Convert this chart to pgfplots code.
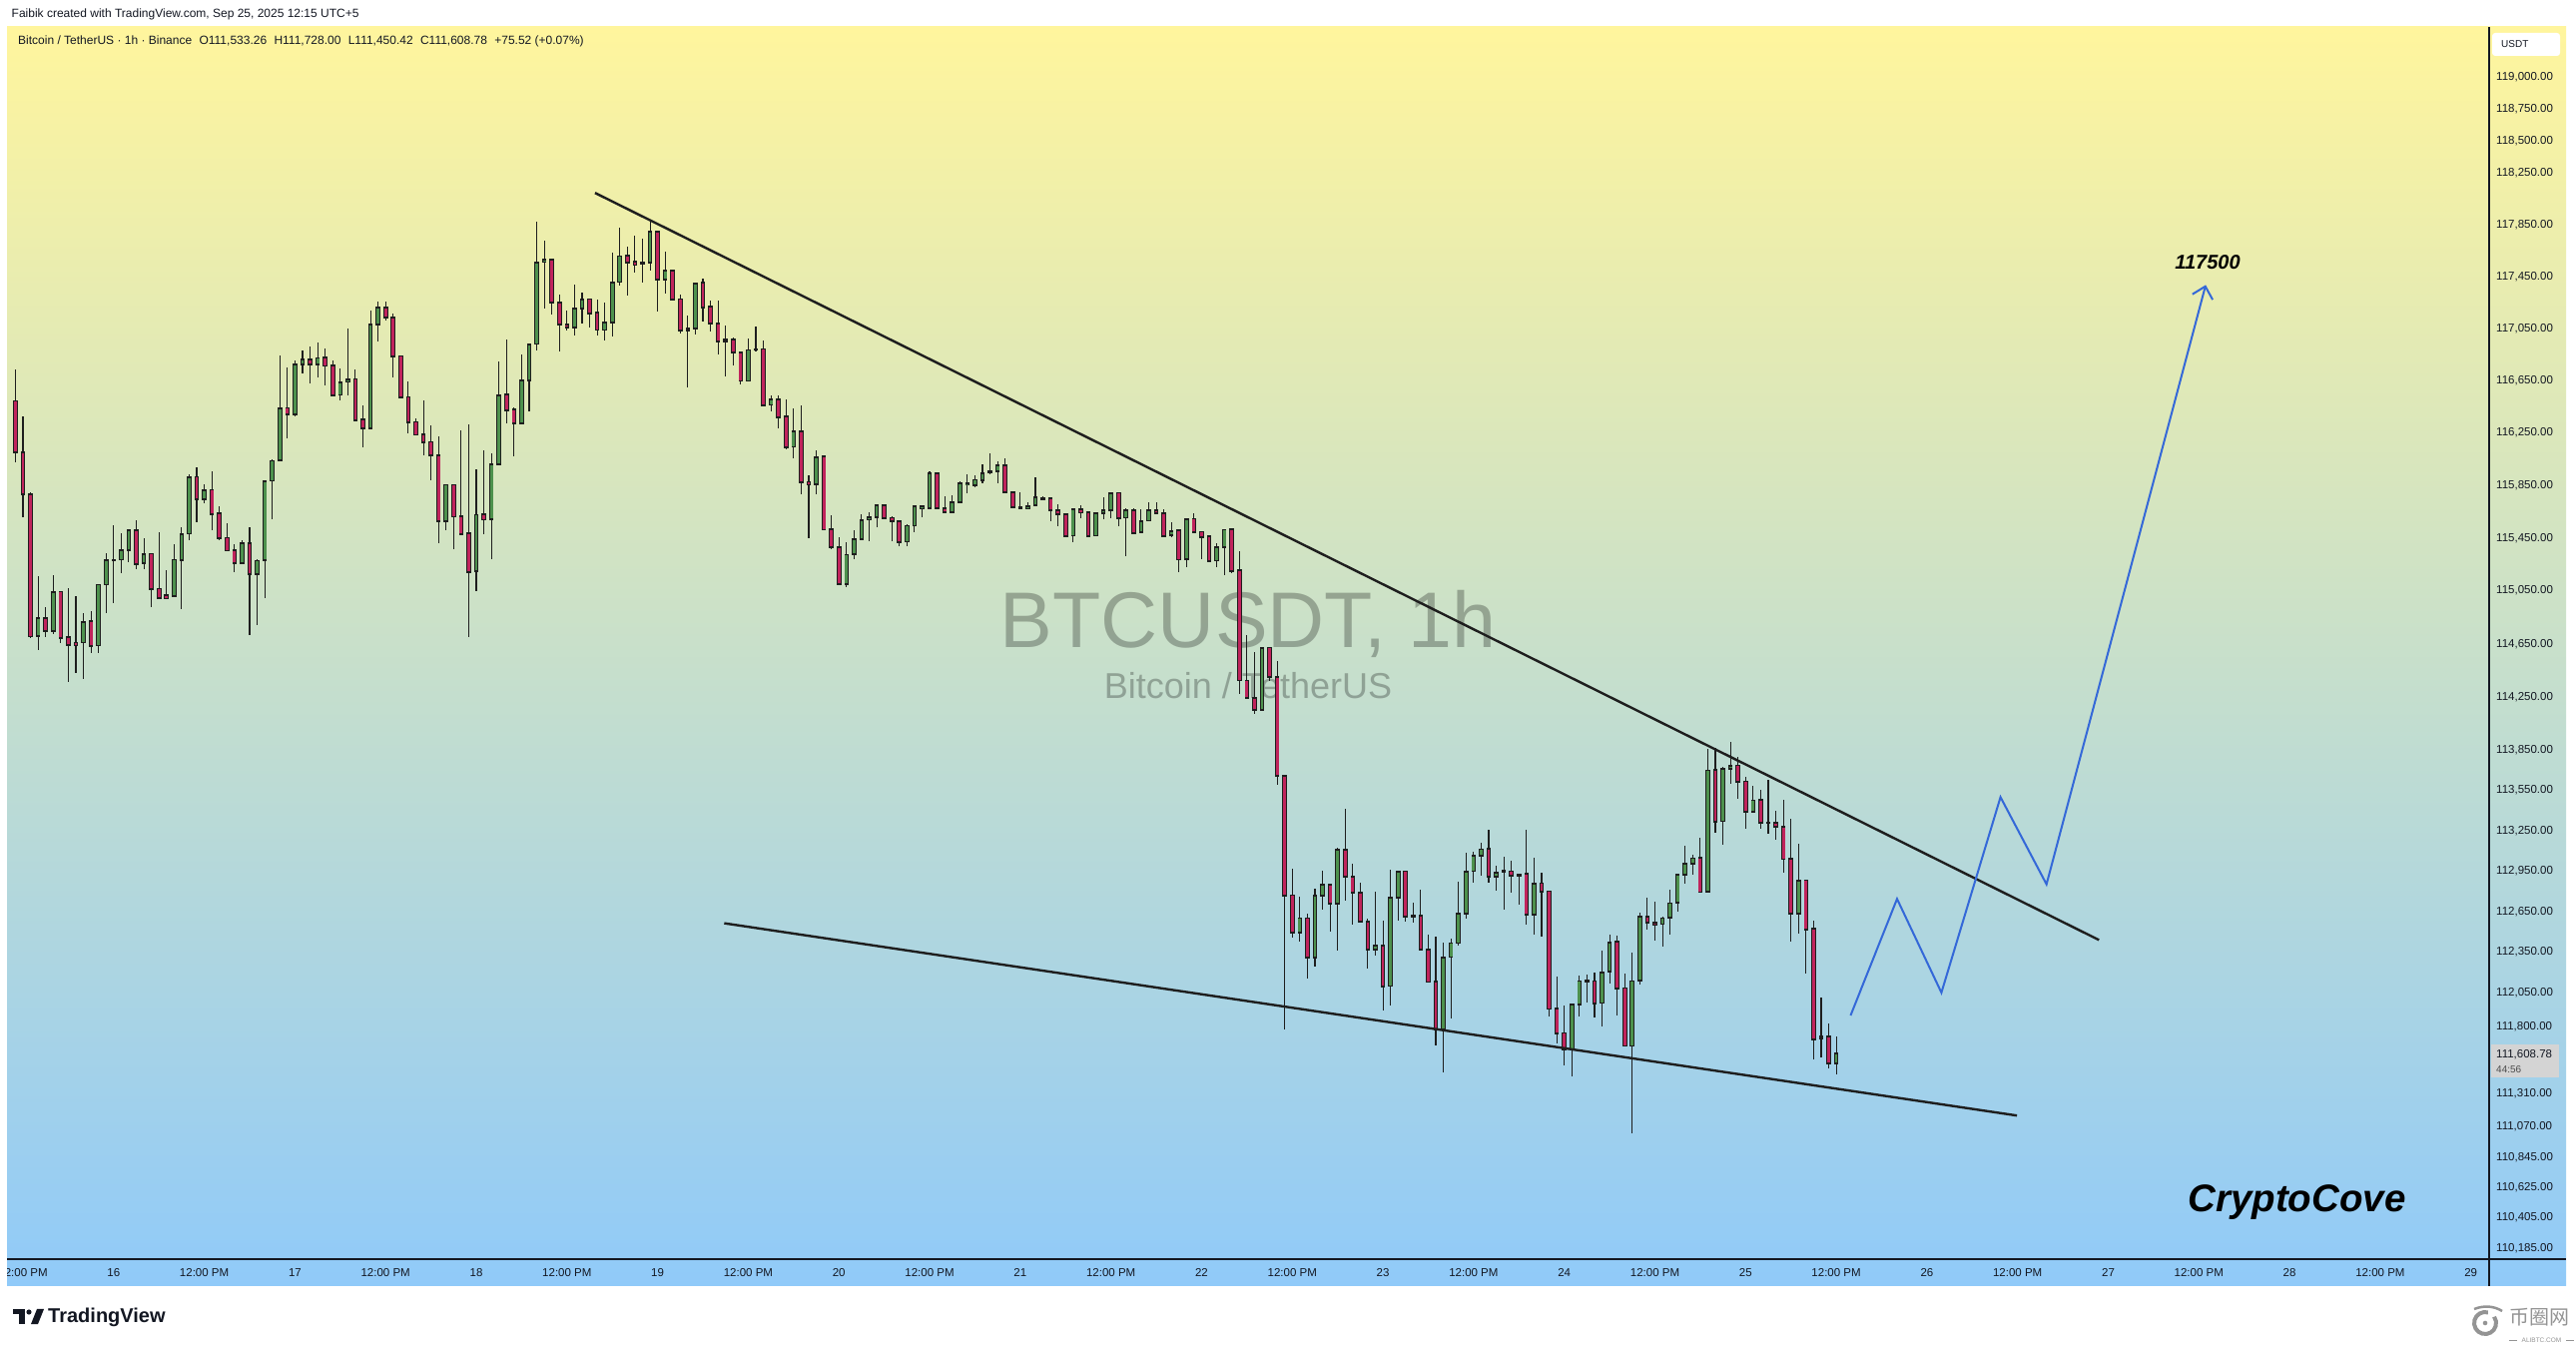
\documentclass[border=0pt]{standalone}
\usepackage{fontspec}
\setmainfont{Liberation Sans}
\newfontfamily\cjk{Noto Sans CJK SC}
\usepackage{pgfplots}
\usepackage{pgfplotstable}
\pgfplotsset{compat=1.18}
\usetikzlibrary{arrows.meta}
\definecolor{bgtop}{HTML}{FFF59D}
\definecolor{bgbot}{HTML}{90CAF9}
\definecolor{tvtext}{HTML}{131722}
\definecolor{upcol}{HTML}{4D914D}
\definecolor{dncol}{HTML}{C0245C}
\definecolor{wickcol}{HTML}{1E1E1E}
\definecolor{projblue}{HTML}{3468D8}

% hourly OHLC, t = hours after Sep 16 00:00 (UTC+5)
\pgfplotstableread{
t o h l c
-13 116494 116742 116029 116105
-12 116105 116385 115610 115787
-11 115787 115800 114699 114711
-10 114711 115169 114606 114849
-9 114849 114932 114703 114749
-8 114749 115176 114728 115045
-7 115045 115050 114661 114699
-6 114699 115076 114365 114643
-5 114661 115012 114436 114643
-4 114661 114887 114391 114819
-3 114819 114899 114586 114641
-2 114641 115106 114586 115101
-1 115101 115341 114887 115288
0 115282 115549 114962 115288
1 115288 115492 115189 115363
2 115363 115517 115269 115512
3 115509 115585 115214 115262
4 115262 115454 115219 115333
5 115333 115340 114932 115068
6 115068 115499 114995 115000
7 115017 115207 114995 115000
8 115017 115408 115010 115288
9 115288 115534 114917 115484
10 115484 115940 115436 115917
11 115917 115992 115575 115749
12 115749 115863 115714 115818
13 115818 115963 115512 115636
14 115636 115693 115434 115454
15 115454 115568 115355 115358
16 115358 115408 115199 115265
17 115265 115434 115260 115416
18 115416 115537 114719 115183
19 115183 115290 114794 115282
20 115282 115895 115000 115889
21 115889 116050 115598 116044
22 116044 116852 116040 116444
23 116444 116756 116215 116398
24 116398 116807 116380 116779
25 116779 116890 116706 116818
26 116818 116920 116633 116779
27 116779 116949 116681 116831
28 116831 116901 116616 116770
29 116770 116807 116540 116545
30 116545 116750 116502 116641
31 116644 117056 116540 116667
32 116667 116742 116350 116354
33 116354 116461 116146 116291
34 116291 117191 116285 117087
35 117087 117265 116954 117217
36 117217 117260 117115 117140
37 117140 117171 116674 116839
38 116839 116845 116522 116527
39 116527 116646 116253 116336
40 116336 116367 116235 116240
41 116240 116499 116082 116184
42 116184 116316 115891 116082
43 116082 116227 115416 115580
44 115580 115865 115512 115859
45 115859 115865 115370 115617
46 115617 116271 115480 115484
47 115484 116316 114703 115201
48 115201 115973 115050 115630
49 115630 116125 115484 115593
50 115598 116100 115295 116015
51 116015 116804 116010 116545
52 116545 116974 116329 116431
53 116431 116451 116075 116329
54 116329 116852 116325 116656
55 116656 116941 116418 116934
56 116934 117883 116885 117564
57 117564 117736 117209 117587
58 117587 117595 117158 117255
59 117255 117319 116877 117087
60 117087 117189 117038 117064
61 117064 117396 116999 117209
62 117209 117337 117089 117278
63 117278 117286 117061 117171
64 117171 117278 116999 117043
65 117043 117255 116962 117102
66 117102 117639 116992 117412
67 117412 117831 117386 117616
68 117616 117690 117306 117564
69 117564 117775 117487 117551
70 117551 117750 117407 117564
71 117564 117883 117500 117800
72 117800 117805 117183 117431
73 117431 117646 117324 117498
74 117498 117504 117275 117278
75 117278 117317 117018 117038
76 117041 117158 116604 117053
77 117053 117412 117010 117405
78 117405 117443 117107 117222
79 117222 117265 117030 117094
80 117094 117273 116854 116956
81 116956 117082 116686 116969
82 116969 116987 116770 116870
83 116870 116875 116622 116653
84 116653 116974 116648 116890
85 116893 117074 116877 116898
86 116895 116966 116465 116469
87 116469 116538 116418 116512
88 116512 116538 116291 116375
89 116375 116515 116125 116146
90 116146 116443 116062 116265
91 116265 116463 115787 115878
92 115878 115929 115454 115863
93 115863 116118 115787 116070
94 116070 116078 115518 115522
95 115522 115623 115371 115386
96 115386 115462 115098 115105
97 115105 115424 115082 115328
98 115328 115517 115295 115446
99 115446 115636 115442 115590
100 115593 115648 115428 115613
101 115613 115714 115537 115704
102 115704 115710 115598 115605
103 115605 115617 115428 115585
104 115580 115590 115391 115424
105 115424 115560 115391 115547
106 115547 115699 115497 115693
107 115681 115706 115613 115699
108 115681 115965 115678 115948
109 115948 115955 115676 115681
110 115681 115772 115646 115651
111 115651 115780 115646 115724
112 115724 115889 115720 115872
113 115857 115935 115795 115872
114 115854 115929 115841 115898
115 115891 116015 115869 115945
116 115951 116100 115937 115963
117 115963 116036 115869 116006
118 116006 116060 115798 115802
119 115802 115808 115684 115688
120 115688 115800 115675 115679
121 115679 115727 115673 115697
122 115703 115919 115700 115763
123 115757 115769 115739 115749
124 115754 115760 115583 115664
125 115664 115709 115544 115634
126 115634 115640 115466 115471
127 115471 115676 115424 115673
128 115673 115703 115607 115649
129 115649 115652 115466 115471
130 115471 115646 115466 115643
131 115643 115763 115598 115664
132 115664 115796 115604 115793
133 115793 115798 115544 115604
134 115607 115679 115313 115664
135 115664 115679 115488 115492
136 115498 115673 115490 115583
137 115583 115724 115580 115664
138 115664 115724 115634 115643
139 115643 115673 115466 115471
140 115471 115574 115457 115508
141 115508 115523 115192 115291
142 115291 115600 115231 115598
143 115598 115643 115490 115501
144 115501 115505 115297 115463
145 115463 115477 115280 115282
146 115282 115411 115231 115381
147 115381 115520 115172 115517
148 115517 115520 115192 115207
149 115207 115351 114275 114379
150 114379 114722 114236 114245
151 114245 114594 114127 114156
152 114156 114630 114154 114624
153 114624 114630 114376 114406
154 114406 114526 113593 113664
155 113664 113670 111780 112772
156 112772 112973 112458 112500
157 112500 112762 112431 112603
158 112603 112635 112161 112316
159 112316 112825 112247 112770
160 112770 112951 112666 112851
161 112851 112855 112504 112713
162 112713 113129 112365 113109
163 113109 113414 112733 112913
164 112913 113005 112556 112794
165 112794 112864 112575 112578
166 112578 112603 112230 112372
167 112372 112799 112328 112401
168 112401 112581 111919 112102
169 112102 112961 111960 112757
170 112757 112955 112585 112951
171 112951 112955 112581 112617
172 112625 112716 112573 112620
173 112625 112812 112368 112372
174 112372 112480 112128 112132
175 112132 112463 111662 111784
176 111784 112426 111467 112316
177 112316 112450 111862 112419
178 112419 112874 112401 112639
179 112639 113092 112603 112951
180 112951 113097 112869 113067
181 113067 113166 112918 113116
182 113116 113265 112869 112913
183 112913 112988 112807 112943
184 112948 113062 112666 112953
185 112951 113030 112794 112918
186 112928 112936 112703 112921
187 112931 113258 112556 112630
188 112630 113050 112482 112862
189 112862 112938 112470 112802
190 112802 112805 111875 111936
191 111936 112176 111679 111757
192 111757 111955 111520 111635
193 111635 111967 111439 111965
194 111965 112181 111882 112139
195 112139 112188 111985 112144
196 112139 112200 111868 111977
197 111977 112360 111801 112206
198 112206 112480 112120 112426
199 112426 112475 111882 112087
200 112087 112193 111658 111662
201 111662 112353 111022 112139
202 112139 112647 112114 112617
203 112617 112757 112519 112573
204 112573 112725 112438 112561
205 112561 112617 112389 112605
206 112605 112814 112482 112716
207 112716 112931 112651 112926
208 112926 113137 112857 113010
209 113010 113074 112926 113047
210 113047 113203 112794 112799
211 112799 113867 112795 113704
212 113704 113869 113235 113322
213 113322 113732 113146 113712
214 113712 113919 113600 113740
215 113740 113804 113495 113620
216 113620 113658 113272 113396
217 113396 113587 113389 113480
218 113480 113563 113265 113314
219 113314 113630 113228 113312
220 113314 113406 113185 113285
221 113285 113488 112938 113042
222 113042 113346 112431 112639
223 112639 113159 112487 112884
224 112884 112890 112193 112524
225 112524 112590 111564 111711
226 111729 112016 111576 111717
227 111729 111826 111500 111533
228 111533.26 111728 111450.42 111608.78
}\candles

% drawn lines (hour, price)
\pgfplotstableread{
t p
63.72 118105
262.78 112443
}\upperline
\pgfplotstableread{
t p
80.82 112565
251.92 111152
}\lowerline
\pgfplotstableread{
t p
229.90 111887
236.05 112746
241.92 112056
249.74 113504
255.83 112856
276.90 117389
}\projection

\begin{document}
\begin{tikzpicture}[x=1pt,y=1pt]
\useasboundingbox (0,0) rectangle (2580,1349);
\fill[white] (0,0) rectangle (2580,1349);
\shade[top color=bgtop, bottom color=bgbot] (7,61) rectangle (2570,1322);

% header
\node[anchor=base west, inner sep=0pt, font=\fontsize{12}{14}\selectfont, text=tvtext] at (11.5,1331.5)
  {Faibik created with TradingView.com, Sep 25, 2025 12:15 UTC+5};
\node[anchor=base west, inner sep=0pt, font=\fontsize{12}{14}\selectfont, text=tvtext] at (18,1304)
  {Bitcoin / TetherUS · 1h · Binance\hspace{4pt} O111,533.26\hspace{4pt} H111,728.00\hspace{4pt} L111,450.42\hspace{4pt} C111,608.78\hspace{4pt} +75.52 (+0.07\%)};

% watermark
\node[anchor=base, inner sep=0pt, font=\fontsize{79}{81}\selectfont, text=black, opacity=0.27] at (1250,700) {BTCUSDT, 1h};
\node[anchor=base, inner sep=0pt, font=\fontsize{36}{38}\selectfont, text=black, opacity=0.27] at (1250,649) {Bitcoin / TetherUS};

\begin{scope}
\clip (7,61) rectangle (2570,1322);
% price axis is logarithmic: u = 15238*ln(price/110000)
\begin{axis}[
  at={(7pt,88pt)}, anchor=south west, scale only axis,
  width=2486pt, height=1234pt,
  xmin=-14.114, xmax=314.42,
  ymin=14.7, ymax=1248.7,
  axis line style={draw=none}, tick style={draw=none}, major tick length=0pt,
  xtick={-12,0,...,312},
  xticklabels={12:00 PM,16,12:00 PM,17,12:00 PM,18,12:00 PM,19,12:00 PM,20,12:00 PM,21,12:00 PM,22,12:00 PM,23,12:00 PM,24,12:00 PM,25,12:00 PM,26,12:00 PM,27,12:00 PM,28,12:00 PM,29},
  ytick={25.61,56.00,86.33,116.61,147.51,180.40,247.33,281.37,322.11,362.74,403.27,443.69,484.00,524.21,577.65,630.91,683.98,736.87,789.57,842.09,894.44,946.60,998.58,1050.39,1102.02,1134.20,1166.32,1198.36},
  yticklabels={{110,185.00},{110,405.00},{110,625.00},{110,845.00},{111,070.00},{111,310.00},{111,800.00},{112,050.00},{112,350.00},{112,650.00},{112,950.00},{113,250.00},{113,550.00},{113,850.00},{114,250.00},{114,650.00},{115,050.00},{115,450.00},{115,850.00},{116,250.00},{116,650.00},{117,050.00},{117,450.00},{117,850.00},{118,250.00},{118,500.00},{118,750.00},{119,000.00}},
  yticklabel pos=right,
  xticklabel style={font=\fontsize{11.5}{13}\selectfont, text=tvtext, anchor=base, inner sep=0pt, yshift=-18pt},
  yticklabel style={font=\fontsize{11.5}{13}\selectfont, text=tvtext, anchor=west, inner sep=0pt, xshift=7pt},
  clip=true,
]
% wicks
\addplot[draw=none, mark=none, forget plot,
  error bars/.cd, y dir=both, y explicit, error mark=none,
  error bar style={draw=wickcol, line width=1.1pt, solid}]
  table[x=t, y expr={7619*(ln(\thisrow{h}/110000)+ln(\thisrow{l}/110000))},
        y error expr={7619*ln(\thisrow{h}/\thisrow{l})}] {\candles};
% up bodies
\addplot[draw=none, mark=none, forget plot,
  restrict expr to domain={\thisrow{c}-\thisrow{o}}{0:1000000},
  error bars/.cd, y dir=both, y explicit, error mark=none,
  error bar style={draw=wickcol, line width=4.6pt, solid}]
  table[x=t, y expr={7619*(ln(\thisrow{o}/110000)+ln(\thisrow{c}/110000))},
        y error expr={7619*abs(ln(\thisrow{c}/\thisrow{o}))+0.9}] {\candles};
\addplot[draw=none, mark=none, forget plot,
  restrict expr to domain={\thisrow{c}-\thisrow{o}}{0:1000000},
  error bars/.cd, y dir=both, y explicit, error mark=none,
  error bar style={draw=upcol, line width=2.8pt, solid}]
  table[x=t, y expr={7619*(ln(\thisrow{o}/110000)+ln(\thisrow{c}/110000))},
        y error expr={max(7619*abs(ln(\thisrow{c}/\thisrow{o}))-0.9,0)}] {\candles};
% down bodies
\addplot[draw=none, mark=none, forget plot,
  restrict expr to domain={\thisrow{o}-\thisrow{c}}{0.001:1000000},
  error bars/.cd, y dir=both, y explicit, error mark=none,
  error bar style={draw=wickcol, line width=4.6pt, solid}]
  table[x=t, y expr={7619*(ln(\thisrow{o}/110000)+ln(\thisrow{c}/110000))},
        y error expr={7619*abs(ln(\thisrow{c}/\thisrow{o}))+0.9}] {\candles};
\addplot[draw=none, mark=none, forget plot,
  restrict expr to domain={\thisrow{o}-\thisrow{c}}{0.001:1000000},
  error bars/.cd, y dir=both, y explicit, error mark=none,
  error bar style={draw=dncol, line width=2.8pt, solid}]
  table[x=t, y expr={7619*(ln(\thisrow{o}/110000)+ln(\thisrow{c}/110000))},
        y error expr={max(7619*abs(ln(\thisrow{c}/\thisrow{o}))-0.9,0)}] {\candles};
% trend lines
\addplot[wickcol, line width=2.4pt, mark=none, forget plot]
  table[x=t, y expr={15238*ln(\thisrow{p}/110000)}] {\upperline};
\addplot[wickcol, line width=2.4pt, mark=none, forget plot]
  table[x=t, y expr={15238*ln(\thisrow{p}/110000)}] {\lowerline};
% projection
\addplot[projblue, line width=2pt, mark=none, forget plot, -{Straight Barb[length=11pt,width=21pt]}]
  table[x=t, y expr={15238*ln(\thisrow{p}/110000)}] {\projection};
\end{axis}
\end{scope}

% scale dividers
\draw[tvtext, line width=1.2pt] (2493,61) -- (2493,1322);
\draw[tvtext, line width=1.2pt] (7,88) -- (2570,88);

% USDT box
\fill[white, rounded corners=3pt] (2496,1293) rectangle (2564,1316);
\node[anchor=west, inner sep=0pt, font=\fontsize{10}{12}\selectfont, text=tvtext] at (2505,1304.5) {USDT};

% current price box
\fill[black!17] (2495,270) rectangle (2563,303);
\node[anchor=base west, inner sep=0pt, font=\fontsize{11.5}{13}\selectfont, text=tvtext] at (2500,289) {111,608.78};
\node[anchor=base west, inner sep=0pt, font=\fontsize{10}{12}\selectfont, text=black!70] at (2500,274) {44:56};

% annotations
\node[anchor=base, inner sep=0pt, font=\fontsize{38.5}{40}\selectfont\bfseries\itshape, text=black] at (2300.5,135) {CryptoCove};
\node[inner sep=0pt, font=\fontsize{20}{22}\selectfont\bfseries\itshape, text=black] at (2211,1086) {117500};

% TradingView logo
\fill[tvtext] (13,38) rectangle (25,33);
\fill[tvtext] (19,33) rectangle (25,23);
\fill[tvtext] (29,35) circle (2.6);
\fill[tvtext] (31,23) -- (37,38) -- (44,38) -- (38,23) -- cycle;
\node[anchor=base west, inner sep=0pt, font=\fontsize{20}{22}\selectfont\bfseries, text=tvtext] at (48,24) {TradingView};

% corner watermark
\draw[black!42, line width=4pt] (2489,24) ++(75:11) arc (75:395:11);
\draw[black!42, line width=2.5pt] (2478,38) .. controls (2488,42) and (2498,41) .. (2506,36);
\fill[black!42] (2489,24) circle (2.3);
\node[anchor=west, inner sep=0pt, font=\cjk\fontsize{20}{21}\selectfont, text=black!42] at (2513,30) {币圈网};
\draw[black!42, line width=0.8pt] (2513,6.5) -- (2521,6.5);
\draw[black!42, line width=0.8pt] (2570,6.5) -- (2578,6.5);
\node[inner sep=0pt, font=\fontsize{6.5}{7}\selectfont, text=black!42] at (2545.5,6.5) {ALIBTC.COM};
\end{tikzpicture}
\end{document}
